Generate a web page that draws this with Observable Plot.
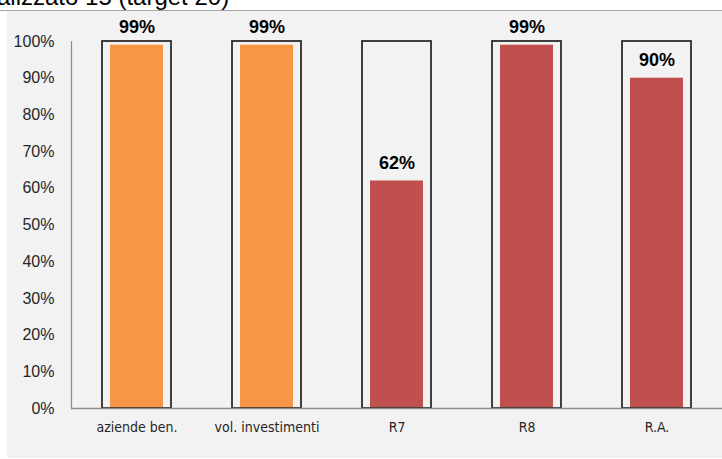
<!DOCTYPE html>
<html>
<head>
<meta charset="utf-8">
<script src="https://cdn.jsdelivr.net/npm/d3@7"></script>
<script src="https://cdn.jsdelivr.net/npm/@observablehq/plot@0.6"></script>
<style>
  html, body { margin: 0; padding: 0; background: #ffffff; }
  #wrap { position: relative; width: 722px; height: 459px; overflow: hidden; }
  #title { position: absolute; left: 0; top: 0; width: 722px; height: 10px; overflow: hidden; }
  #title span { position: absolute; left: -3px; top: -15px; font-family: "Liberation Sans", Arial, sans-serif; font-size: 24px; line-height: 24px; color: #000; white-space: nowrap; }
  #topline { position: absolute; left: 0; top: 10px; width: 722px; height: 1px; background: #a6a6a6; }
  #panel { position: absolute; left: 7px; top: 11px; width: 715px; height: 447px; background: #f2f2f2; }
  #chart { position: absolute; left: 0; top: 0; }
</style>
</head>
<body>
<div id="wrap">
  <div id="title"><span>alizzato 15 (target 20)</span></div>
  <div id="topline"></div>
  <div id="panel"></div>
  <div id="chart"></div>
</div>
<script>
const categories = ["aziende ben.", "vol. investimenti", "R7", "R8", "R.A."];
const values = [0.99, 0.99, 0.62, 0.99, 0.90];
const groups = ["a", "a", "b", "b", "b"];
const yTicks = [0, 0.1, 0.2, 0.3, 0.4, 0.5, 0.6, 0.7, 0.8, 0.9, 1.0];
const targetValue = 1.0;

const data = categories.map((c, i) => ({cat: c, value: values[i], group: groups[i], target: targetValue}));

const chart = Plot.plot({
  width: 722,
  height: 459,
  marginTop: 41,
  marginBottom: 51,
  marginLeft: 71,
  marginRight: 0,
  style: {background: "transparent", fontFamily: "'Liberation Sans', Arial, sans-serif", overflow: "visible"},
  x: {domain: categories, paddingInner: 0.469, paddingOuter: 0.2346, label: null},
  y: {domain: [0, 1], label: null},
  color: {domain: ["a", "b"], range: ["#F79646", "#C0504D"]},
  marks: [
    Plot.frame({anchor: "left", stroke: "#8c8c8c", strokeWidth: 1.25}),
    Plot.barY(data, {x: "cat", y: "value", fill: "group", insetLeft: 8, insetRight: 8}),
    Plot.barY(data, {x: "cat", y: "target", fill: "none", stroke: "#262626", strokeWidth: 1.75}),
    Plot.ruleY([0], {stroke: "#8c8c8c", strokeWidth: 1.5}),
    Plot.text(data, {x: "cat", y: "value", text: d => Math.round(d.value * 100) + "%", dy: -17.5, fontWeight: "bold", fontSize: 18, fill: "#000"}),
    Plot.axisY({ticks: yTicks, tickFormat: d3.format(".0%"), tickSize: 0, tickPadding: 17, fontSize: 16, fill: "#262626", label: null}),
    Plot.axisX({tickSize: 0, tickPadding: 14, fontSize: 14, fontFamily: "'DejaVu Sans Condensed', sans-serif", fill: "#262626", label: null})
  ]
});
document.getElementById("chart").appendChild(chart);
</script>
</body>
</html>
